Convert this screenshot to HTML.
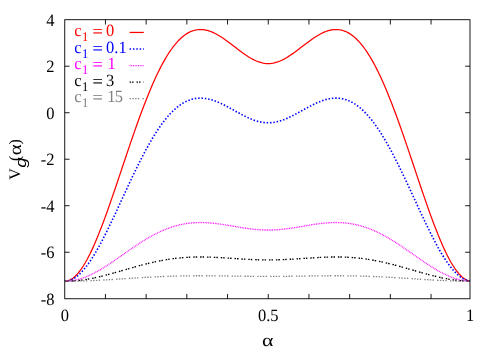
<!DOCTYPE html><html><head><meta charset="utf-8"><title>V_g</title><style>html,body{margin:0;padding:0;background:#fff}svg{display:block;will-change:transform}text{font-family:"Liberation Serif",serif;font-size:16.5px;text-rendering:geometricPrecision}</style></head><body>
<svg width="498" height="349" viewBox="0 0 498 349">
<rect width="498" height="349" fill="#fff"/>
<clipPath id="pc"><rect x="64.75" y="19.7" width="405.25" height="279.05"/></clipPath>
<g fill="none" stroke-linejoin="round" clip-path="url(#pc)">
<path d="M64.75,281.22 L66.45,281.08 L68.14,280.68 L69.84,280.02 L71.53,279.09 L73.23,277.91 L74.92,276.48 L76.62,274.80 L78.32,272.89 L80.01,270.74 L81.71,268.36 L83.40,265.77 L85.10,262.98 L86.80,259.98 L88.49,256.79 L90.19,253.42 L91.88,249.87 L93.58,246.16 L95.28,242.29 L96.97,238.28 L98.67,234.13 L100.36,229.85 L102.06,225.46 L103.75,220.96 L105.45,216.36 L107.15,211.67 L108.84,206.91 L110.54,202.07 L112.23,197.17 L113.93,192.23 L115.62,187.24 L117.32,182.22 L119.02,177.17 L120.71,172.11 L122.41,167.04 L124.10,161.98 L125.80,156.93 L127.50,151.89 L129.19,146.89 L130.89,141.92 L132.58,136.99 L134.28,132.11 L135.97,127.28 L137.67,122.52 L139.37,117.83 L141.06,113.22 L142.76,108.69 L144.45,104.25 L146.15,99.90 L147.85,95.65 L149.54,91.51 L151.24,87.48 L152.93,83.56 L154.63,79.76 L156.32,76.08 L158.02,72.53 L159.72,69.10 L161.41,65.81 L163.11,62.66 L164.80,59.65 L166.50,56.77 L168.20,54.04 L169.89,51.45 L171.59,49.00 L173.28,46.70 L174.98,44.55 L176.68,42.55 L178.37,40.69 L180.07,38.98 L181.76,37.42 L183.46,36.01 L185.15,34.73 L186.85,33.61 L188.55,32.62 L190.24,31.78 L191.94,31.07 L193.63,30.50 L195.33,30.06 L197.03,29.75 L198.72,29.57 L200.42,29.51 L202.11,29.57 L203.81,29.74 L205.50,30.02 L207.20,30.41 L208.90,30.91 L210.59,31.49 L212.29,32.17 L213.98,32.94 L215.68,33.78 L217.38,34.70 L219.07,35.69 L220.77,36.73 L222.46,37.84 L224.16,38.99 L225.85,40.19 L227.55,41.42 L229.25,42.68 L230.94,43.96 L232.64,45.26 L234.33,46.56 L236.03,47.87 L237.72,49.16 L239.42,50.45 L241.12,51.71 L242.81,52.94 L244.51,54.14 L246.20,55.30 L247.90,56.40 L249.60,57.45 L251.29,58.44 L252.99,59.36 L254.68,60.20 L256.38,60.96 L258.07,61.63 L259.77,62.21 L261.47,62.69 L263.16,63.07 L264.86,63.35 L266.55,63.52 L268.25,63.57 L269.95,63.52 L271.64,63.35 L273.34,63.07 L275.03,62.69 L276.73,62.21 L278.43,61.63 L280.12,60.96 L281.82,60.20 L283.51,59.36 L285.21,58.44 L286.90,57.45 L288.60,56.40 L290.30,55.30 L291.99,54.14 L293.69,52.94 L295.38,51.71 L297.08,50.45 L298.77,49.16 L300.47,47.87 L302.17,46.56 L303.86,45.26 L305.56,43.96 L307.25,42.68 L308.95,41.42 L310.65,40.19 L312.34,38.99 L314.04,37.84 L315.73,36.73 L317.43,35.69 L319.12,34.70 L320.82,33.78 L322.52,32.94 L324.21,32.17 L325.91,31.49 L327.60,30.91 L329.30,30.41 L331.00,30.02 L332.69,29.74 L334.39,29.57 L336.08,29.51 L337.78,29.57 L339.48,29.75 L341.17,30.06 L342.87,30.50 L344.56,31.07 L346.26,31.78 L347.95,32.62 L349.65,33.61 L351.35,34.73 L353.04,36.01 L354.74,37.42 L356.43,38.98 L358.13,40.69 L359.82,42.55 L361.52,44.55 L363.22,46.70 L364.91,49.00 L366.61,51.45 L368.30,54.04 L370.00,56.77 L371.70,59.65 L373.39,62.66 L375.09,65.81 L376.78,69.10 L378.48,72.53 L380.18,76.08 L381.87,79.76 L383.57,83.56 L385.26,87.48 L386.96,91.51 L388.65,95.65 L390.35,99.90 L392.05,104.25 L393.74,108.69 L395.44,113.22 L397.13,117.83 L398.83,122.52 L400.52,127.28 L402.22,132.11 L403.92,136.99 L405.61,141.92 L407.31,146.89 L409.00,151.89 L410.70,156.93 L412.40,161.98 L414.09,167.04 L415.79,172.11 L417.48,177.17 L419.18,182.22 L420.88,187.24 L422.57,192.23 L424.27,197.17 L425.96,202.07 L427.66,206.91 L429.35,211.67 L431.05,216.36 L432.75,220.96 L434.44,225.46 L436.14,229.85 L437.83,234.13 L439.53,238.28 L441.23,242.29 L442.92,246.16 L444.62,249.87 L446.31,253.42 L448.01,256.79 L449.70,259.98 L451.40,262.98 L453.10,265.77 L454.79,268.36 L456.49,270.74 L458.18,272.89 L459.88,274.80 L461.57,276.48 L463.27,277.91 L464.97,279.09 L466.66,280.02 L468.36,280.68 L470.05,281.08 L471.75,281.22" stroke="#ff0000" stroke-width="1.25"/>
<path d="M64.75,281.22 L66.45,281.12 L68.14,280.83 L69.84,280.35 L71.53,279.68 L73.23,278.82 L74.92,277.78 L76.62,276.57 L78.32,275.18 L80.01,273.62 L81.71,271.90 L83.40,270.02 L85.10,267.99 L86.80,265.82 L88.49,263.50 L90.19,261.06 L91.88,258.48 L93.58,255.79 L95.28,252.98 L96.97,250.07 L98.67,247.05 L100.36,243.95 L102.06,240.76 L103.75,237.48 L105.45,234.14 L107.15,230.73 L108.84,227.27 L110.54,223.75 L112.23,220.19 L113.93,216.60 L115.62,212.97 L117.32,209.32 L119.02,205.65 L120.71,201.96 L122.41,198.28 L124.10,194.59 L125.80,190.92 L127.50,187.25 L129.19,183.61 L130.89,179.99 L132.58,176.40 L134.28,172.85 L135.97,169.34 L137.67,165.87 L139.37,162.46 L141.06,159.10 L142.76,155.80 L144.45,152.56 L146.15,149.40 L147.85,146.30 L149.54,143.29 L151.24,140.35 L152.93,137.49 L154.63,134.73 L156.32,132.05 L158.02,129.46 L159.72,126.97 L161.41,124.57 L163.11,122.28 L164.80,120.08 L166.50,117.99 L168.20,116.00 L169.89,114.11 L171.59,112.33 L173.28,110.66 L174.98,109.09 L176.68,107.63 L178.37,106.28 L180.07,105.04 L181.76,103.90 L183.46,102.87 L185.15,101.94 L186.85,101.12 L188.55,100.41 L190.24,99.79 L191.94,99.28 L193.63,98.86 L195.33,98.54 L197.03,98.32 L198.72,98.18 L200.42,98.14 L202.11,98.18 L203.81,98.31 L205.50,98.52 L207.20,98.80 L208.90,99.16 L210.59,99.58 L212.29,100.08 L213.98,100.63 L215.68,101.24 L217.38,101.91 L219.07,102.63 L220.77,103.39 L222.46,104.19 L224.16,105.03 L225.85,105.89 L227.55,106.79 L229.25,107.70 L230.94,108.63 L232.64,109.57 L234.33,110.51 L236.03,111.46 L237.72,112.40 L239.42,113.32 L241.12,114.24 L242.81,115.13 L244.51,116.00 L246.20,116.83 L247.90,117.63 L249.60,118.39 L251.29,119.11 L252.99,119.77 L254.68,120.38 L256.38,120.92 L258.07,121.41 L259.77,121.83 L261.47,122.17 L263.16,122.45 L264.86,122.65 L266.55,122.77 L268.25,122.81 L269.95,122.77 L271.64,122.65 L273.34,122.45 L275.03,122.17 L276.73,121.83 L278.43,121.41 L280.12,120.92 L281.82,120.38 L283.51,119.77 L285.21,119.11 L286.90,118.39 L288.60,117.63 L290.30,116.83 L291.99,116.00 L293.69,115.13 L295.38,114.24 L297.08,113.32 L298.77,112.40 L300.47,111.46 L302.17,110.51 L303.86,109.57 L305.56,108.63 L307.25,107.70 L308.95,106.79 L310.65,105.89 L312.34,105.03 L314.04,104.19 L315.73,103.39 L317.43,102.63 L319.12,101.91 L320.82,101.24 L322.52,100.63 L324.21,100.08 L325.91,99.58 L327.60,99.16 L329.30,98.80 L331.00,98.52 L332.69,98.31 L334.39,98.18 L336.08,98.14 L337.78,98.18 L339.48,98.32 L341.17,98.54 L342.87,98.86 L344.56,99.28 L346.26,99.79 L347.95,100.41 L349.65,101.12 L351.35,101.94 L353.04,102.87 L354.74,103.90 L356.43,105.04 L358.13,106.28 L359.82,107.63 L361.52,109.09 L363.22,110.66 L364.91,112.33 L366.61,114.11 L368.30,116.00 L370.00,117.99 L371.70,120.08 L373.39,122.28 L375.09,124.57 L376.78,126.97 L378.48,129.46 L380.18,132.05 L381.87,134.73 L383.57,137.49 L385.26,140.35 L386.96,143.29 L388.65,146.30 L390.35,149.40 L392.05,152.56 L393.74,155.80 L395.44,159.10 L397.13,162.46 L398.83,165.87 L400.52,169.34 L402.22,172.85 L403.92,176.40 L405.61,179.99 L407.31,183.61 L409.00,187.25 L410.70,190.92 L412.40,194.59 L414.09,198.28 L415.79,201.96 L417.48,205.65 L419.18,209.32 L420.88,212.97 L422.57,216.60 L424.27,220.19 L425.96,223.75 L427.66,227.27 L429.35,230.73 L431.05,234.14 L432.75,237.48 L434.44,240.76 L436.14,243.95 L437.83,247.05 L439.53,250.07 L441.23,252.98 L442.92,255.79 L444.62,258.48 L446.31,261.06 L448.01,263.50 L449.70,265.82 L451.40,267.99 L453.10,270.02 L454.79,271.90 L456.49,273.62 L458.18,275.18 L459.88,276.57 L461.57,277.78 L463.27,278.82 L464.97,279.68 L466.66,280.35 L468.36,280.83 L470.05,281.12 L471.75,281.22" stroke="#0000ff" stroke-width="1.6" stroke-dasharray="1.5 1.85"/>
<path d="M64.75,281.22 L66.45,281.19 L68.14,281.10 L69.84,280.95 L71.53,280.75 L73.23,280.48 L74.92,280.17 L76.62,279.79 L78.32,279.36 L80.01,278.88 L81.71,278.35 L83.40,277.77 L85.10,277.14 L86.80,276.46 L88.49,275.74 L90.19,274.98 L91.88,274.17 L93.58,273.33 L95.28,272.45 L96.97,271.53 L98.67,270.58 L100.36,269.60 L102.06,268.59 L103.75,267.55 L105.45,266.49 L107.15,265.41 L108.84,264.30 L110.54,263.18 L112.23,262.04 L113.93,260.89 L115.62,259.73 L117.32,258.56 L119.02,257.38 L120.71,256.20 L122.41,255.01 L124.10,253.82 L125.80,252.64 L127.50,251.45 L129.19,250.28 L130.89,249.11 L132.58,247.95 L134.28,246.79 L135.97,245.66 L137.67,244.53 L139.37,243.42 L141.06,242.33 L142.76,241.26 L144.45,240.21 L146.15,239.18 L147.85,238.17 L149.54,237.19 L151.24,236.24 L152.93,235.31 L154.63,234.41 L156.32,233.54 L158.02,232.69 L159.72,231.88 L161.41,231.10 L163.11,230.36 L164.80,229.64 L166.50,228.96 L168.20,228.32 L169.89,227.70 L171.59,227.12 L173.28,226.58 L174.98,226.07 L176.68,225.60 L178.37,225.16 L180.07,224.76 L181.76,224.39 L183.46,224.06 L185.15,223.76 L186.85,223.50 L188.55,223.27 L190.24,223.07 L191.94,222.90 L193.63,222.77 L195.33,222.67 L197.03,222.60 L198.72,222.55 L200.42,222.54 L202.11,222.55 L203.81,222.59 L205.50,222.66 L207.20,222.75 L208.90,222.86 L210.59,223.00 L212.29,223.15 L213.98,223.33 L215.68,223.52 L217.38,223.73 L219.07,223.95 L220.77,224.19 L222.46,224.44 L224.16,224.70 L225.85,224.96 L227.55,225.24 L229.25,225.52 L230.94,225.81 L232.64,226.09 L234.33,226.38 L236.03,226.67 L237.72,226.95 L239.42,227.24 L241.12,227.51 L242.81,227.78 L244.51,228.04 L246.20,228.29 L247.90,228.53 L249.60,228.75 L251.29,228.96 L252.99,229.16 L254.68,229.34 L256.38,229.50 L258.07,229.64 L259.77,229.76 L261.47,229.86 L263.16,229.94 L264.86,230.00 L266.55,230.03 L268.25,230.04 L269.95,230.03 L271.64,230.00 L273.34,229.94 L275.03,229.86 L276.73,229.76 L278.43,229.64 L280.12,229.50 L281.82,229.34 L283.51,229.16 L285.21,228.96 L286.90,228.75 L288.60,228.53 L290.30,228.29 L291.99,228.04 L293.69,227.78 L295.38,227.51 L297.08,227.24 L298.77,226.95 L300.47,226.67 L302.17,226.38 L303.86,226.09 L305.56,225.81 L307.25,225.52 L308.95,225.24 L310.65,224.96 L312.34,224.70 L314.04,224.44 L315.73,224.19 L317.43,223.95 L319.12,223.73 L320.82,223.52 L322.52,223.33 L324.21,223.15 L325.91,223.00 L327.60,222.86 L329.30,222.75 L331.00,222.66 L332.69,222.59 L334.39,222.55 L336.08,222.54 L337.78,222.55 L339.48,222.60 L341.17,222.67 L342.87,222.77 L344.56,222.90 L346.26,223.07 L347.95,223.27 L349.65,223.50 L351.35,223.76 L353.04,224.06 L354.74,224.39 L356.43,224.76 L358.13,225.16 L359.82,225.60 L361.52,226.07 L363.22,226.58 L364.91,227.12 L366.61,227.70 L368.30,228.32 L370.00,228.96 L371.70,229.64 L373.39,230.36 L375.09,231.10 L376.78,231.88 L378.48,232.69 L380.18,233.54 L381.87,234.41 L383.57,235.31 L385.26,236.24 L386.96,237.19 L388.65,238.17 L390.35,239.18 L392.05,240.21 L393.74,241.26 L395.44,242.33 L397.13,243.42 L398.83,244.53 L400.52,245.66 L402.22,246.79 L403.92,247.95 L405.61,249.11 L407.31,250.28 L409.00,251.45 L410.70,252.64 L412.40,253.82 L414.09,255.01 L415.79,256.20 L417.48,257.38 L419.18,258.56 L420.88,259.73 L422.57,260.89 L424.27,262.04 L425.96,263.18 L427.66,264.30 L429.35,265.41 L431.05,266.49 L432.75,267.55 L434.44,268.59 L436.14,269.60 L437.83,270.58 L439.53,271.53 L441.23,272.45 L442.92,273.33 L444.62,274.17 L446.31,274.98 L448.01,275.74 L449.70,276.46 L451.40,277.14 L453.10,277.77 L454.79,278.35 L456.49,278.88 L458.18,279.36 L459.88,279.79 L461.57,280.17 L463.27,280.48 L464.97,280.75 L466.66,280.95 L468.36,281.10 L470.05,281.19 L471.75,281.22" stroke="#ff00ff" stroke-width="1.35" stroke-dasharray="0.85 0.85"/>
<path d="M64.75,281.22 L66.45,281.20 L68.14,281.17 L69.84,281.11 L71.53,281.03 L73.23,280.92 L74.92,280.80 L76.62,280.65 L78.32,280.48 L80.01,280.28 L81.71,280.07 L83.40,279.84 L85.10,279.58 L86.80,279.31 L88.49,279.02 L90.19,278.71 L91.88,278.38 L93.58,278.04 L95.28,277.68 L96.97,277.31 L98.67,276.92 L100.36,276.52 L102.06,276.11 L103.75,275.68 L105.45,275.25 L107.15,274.81 L108.84,274.35 L110.54,273.89 L112.23,273.42 L113.93,272.95 L115.62,272.47 L117.32,271.98 L119.02,271.50 L120.71,271.01 L122.41,270.51 L124.10,270.02 L125.80,269.53 L127.50,269.04 L129.19,268.55 L130.89,268.06 L132.58,267.58 L134.28,267.10 L135.97,266.62 L137.67,266.16 L139.37,265.69 L141.06,265.24 L142.76,264.79 L144.45,264.35 L146.15,263.92 L147.85,263.50 L149.54,263.09 L151.24,262.69 L152.93,262.30 L154.63,261.92 L156.32,261.56 L158.02,261.21 L159.72,260.87 L161.41,260.54 L163.11,260.23 L164.80,259.93 L166.50,259.65 L168.20,259.38 L169.89,259.12 L171.59,258.88 L173.28,258.66 L174.98,258.44 L176.68,258.25 L178.37,258.06 L180.07,257.90 L181.76,257.74 L183.46,257.61 L185.15,257.48 L186.85,257.37 L188.55,257.28 L190.24,257.20 L191.94,257.13 L193.63,257.07 L195.33,257.03 L197.03,257.00 L198.72,256.98 L200.42,256.98 L202.11,256.98 L203.81,257.00 L205.50,257.03 L207.20,257.06 L208.90,257.11 L210.59,257.16 L212.29,257.23 L213.98,257.30 L215.68,257.37 L217.38,257.46 L219.07,257.55 L220.77,257.64 L222.46,257.74 L224.16,257.85 L225.85,257.96 L227.55,258.07 L229.25,258.18 L230.94,258.29 L232.64,258.40 L234.33,258.52 L236.03,258.63 L237.72,258.74 L239.42,258.85 L241.12,258.96 L242.81,259.06 L244.51,259.17 L246.20,259.26 L247.90,259.35 L249.60,259.44 L251.29,259.52 L252.99,259.60 L254.68,259.67 L256.38,259.73 L258.07,259.78 L259.77,259.83 L261.47,259.87 L263.16,259.90 L264.86,259.92 L266.55,259.93 L268.25,259.93 L269.95,259.93 L271.64,259.92 L273.34,259.90 L275.03,259.87 L276.73,259.83 L278.43,259.78 L280.12,259.73 L281.82,259.67 L283.51,259.60 L285.21,259.52 L286.90,259.44 L288.60,259.35 L290.30,259.26 L291.99,259.17 L293.69,259.06 L295.38,258.96 L297.08,258.85 L298.77,258.74 L300.47,258.63 L302.17,258.52 L303.86,258.40 L305.56,258.29 L307.25,258.18 L308.95,258.07 L310.65,257.96 L312.34,257.85 L314.04,257.74 L315.73,257.64 L317.43,257.55 L319.12,257.46 L320.82,257.37 L322.52,257.30 L324.21,257.23 L325.91,257.16 L327.60,257.11 L329.30,257.06 L331.00,257.03 L332.69,257.00 L334.39,256.98 L336.08,256.98 L337.78,256.98 L339.48,257.00 L341.17,257.03 L342.87,257.07 L344.56,257.13 L346.26,257.20 L347.95,257.28 L349.65,257.37 L351.35,257.48 L353.04,257.61 L354.74,257.74 L356.43,257.90 L358.13,258.06 L359.82,258.25 L361.52,258.44 L363.22,258.66 L364.91,258.88 L366.61,259.12 L368.30,259.38 L370.00,259.65 L371.70,259.93 L373.39,260.23 L375.09,260.54 L376.78,260.87 L378.48,261.21 L380.18,261.56 L381.87,261.92 L383.57,262.30 L385.26,262.69 L386.96,263.09 L388.65,263.50 L390.35,263.92 L392.05,264.35 L393.74,264.79 L395.44,265.24 L397.13,265.69 L398.83,266.16 L400.52,266.62 L402.22,267.10 L403.92,267.58 L405.61,268.06 L407.31,268.55 L409.00,269.04 L410.70,269.53 L412.40,270.02 L414.09,270.51 L415.79,271.01 L417.48,271.50 L419.18,271.98 L420.88,272.47 L422.57,272.95 L424.27,273.42 L425.96,273.89 L427.66,274.35 L429.35,274.81 L431.05,275.25 L432.75,275.68 L434.44,276.11 L436.14,276.52 L437.83,276.92 L439.53,277.31 L441.23,277.68 L442.92,278.04 L444.62,278.38 L446.31,278.71 L448.01,279.02 L449.70,279.31 L451.40,279.58 L453.10,279.84 L454.79,280.07 L456.49,280.28 L458.18,280.48 L459.88,280.65 L461.57,280.80 L463.27,280.92 L464.97,281.03 L466.66,281.11 L468.36,281.17 L470.05,281.20 L471.75,281.22" stroke="#000000" stroke-width="1.35" stroke-dasharray="1.5 1.0 1.5 2.9"/>
<path d="M64.75,281.22 L66.45,281.21 L68.14,281.21 L69.84,281.19 L71.53,281.18 L73.23,281.15 L74.92,281.13 L76.62,281.09 L78.32,281.06 L80.01,281.01 L81.71,280.97 L83.40,280.92 L85.10,280.86 L86.80,280.80 L88.49,280.74 L90.19,280.67 L91.88,280.60 L93.58,280.52 L95.28,280.44 L96.97,280.36 L98.67,280.27 L100.36,280.18 L102.06,280.09 L103.75,280.00 L105.45,279.90 L107.15,279.80 L108.84,279.70 L110.54,279.59 L112.23,279.49 L113.93,279.38 L115.62,279.27 L117.32,279.17 L119.02,279.06 L120.71,278.94 L122.41,278.83 L124.10,278.72 L125.80,278.61 L127.50,278.50 L129.19,278.39 L130.89,278.28 L132.58,278.17 L134.28,278.06 L135.97,277.95 L137.67,277.84 L139.37,277.74 L141.06,277.63 L142.76,277.53 L144.45,277.43 L146.15,277.33 L147.85,277.24 L149.54,277.15 L151.24,277.05 L152.93,276.97 L154.63,276.88 L156.32,276.80 L158.02,276.72 L159.72,276.64 L161.41,276.56 L163.11,276.49 L164.80,276.42 L166.50,276.36 L168.20,276.30 L169.89,276.24 L171.59,276.19 L173.28,276.13 L174.98,276.09 L176.68,276.04 L178.37,276.00 L180.07,275.96 L181.76,275.93 L183.46,275.90 L185.15,275.87 L186.85,275.84 L188.55,275.82 L190.24,275.80 L191.94,275.79 L193.63,275.78 L195.33,275.77 L197.03,275.76 L198.72,275.76 L200.42,275.75 L202.11,275.76 L203.81,275.76 L205.50,275.77 L207.20,275.77 L208.90,275.78 L210.59,275.80 L212.29,275.81 L213.98,275.83 L215.68,275.84 L217.38,275.86 L219.07,275.88 L220.77,275.90 L222.46,275.92 L224.16,275.95 L225.85,275.97 L227.55,275.99 L229.25,276.02 L230.94,276.04 L232.64,276.06 L234.33,276.09 L236.03,276.11 L237.72,276.14 L239.42,276.16 L241.12,276.18 L242.81,276.21 L244.51,276.23 L246.20,276.25 L247.90,276.27 L249.60,276.28 L251.29,276.30 L252.99,276.32 L254.68,276.33 L256.38,276.34 L258.07,276.35 L259.77,276.36 L261.47,276.37 L263.16,276.38 L264.86,276.38 L266.55,276.38 L268.25,276.39 L269.95,276.38 L271.64,276.38 L273.34,276.38 L275.03,276.37 L276.73,276.36 L278.43,276.35 L280.12,276.34 L281.82,276.33 L283.51,276.32 L285.21,276.30 L286.90,276.28 L288.60,276.27 L290.30,276.25 L291.99,276.23 L293.69,276.21 L295.38,276.18 L297.08,276.16 L298.77,276.14 L300.47,276.11 L302.17,276.09 L303.86,276.06 L305.56,276.04 L307.25,276.02 L308.95,275.99 L310.65,275.97 L312.34,275.95 L314.04,275.92 L315.73,275.90 L317.43,275.88 L319.12,275.86 L320.82,275.84 L322.52,275.83 L324.21,275.81 L325.91,275.80 L327.60,275.78 L329.30,275.77 L331.00,275.77 L332.69,275.76 L334.39,275.76 L336.08,275.75 L337.78,275.76 L339.48,275.76 L341.17,275.77 L342.87,275.78 L344.56,275.79 L346.26,275.80 L347.95,275.82 L349.65,275.84 L351.35,275.87 L353.04,275.90 L354.74,275.93 L356.43,275.96 L358.13,276.00 L359.82,276.04 L361.52,276.09 L363.22,276.13 L364.91,276.19 L366.61,276.24 L368.30,276.30 L370.00,276.36 L371.70,276.42 L373.39,276.49 L375.09,276.56 L376.78,276.64 L378.48,276.72 L380.18,276.80 L381.87,276.88 L383.57,276.97 L385.26,277.05 L386.96,277.15 L388.65,277.24 L390.35,277.33 L392.05,277.43 L393.74,277.53 L395.44,277.63 L397.13,277.74 L398.83,277.84 L400.52,277.95 L402.22,278.06 L403.92,278.17 L405.61,278.28 L407.31,278.39 L409.00,278.50 L410.70,278.61 L412.40,278.72 L414.09,278.83 L415.79,278.94 L417.48,279.06 L419.18,279.17 L420.88,279.27 L422.57,279.38 L424.27,279.49 L425.96,279.59 L427.66,279.70 L429.35,279.80 L431.05,279.90 L432.75,280.00 L434.44,280.09 L436.14,280.18 L437.83,280.27 L439.53,280.36 L441.23,280.44 L442.92,280.52 L444.62,280.60 L446.31,280.67 L448.01,280.74 L449.70,280.80 L451.40,280.86 L453.10,280.92 L454.79,280.97 L456.49,281.01 L458.18,281.06 L459.88,281.09 L461.57,281.13 L463.27,281.15 L464.97,281.18 L466.66,281.19 L468.36,281.21 L470.05,281.21 L471.75,281.22" stroke="#808080" stroke-width="1.3" stroke-dasharray="1.4 1.35 1.4 1.35 1.4 1.35 1.4 3.2"/>
</g>
<g fill="none" stroke="#000" stroke-width="0.9">
<rect x="64.75" y="19.7" width="405.25" height="279.05"/>
<path d="M105.45,298.75v-4.80M105.45,19.70v4.80M146.15,298.75v-4.80M146.15,19.70v4.80M186.85,298.75v-4.80M186.85,19.70v4.80M227.55,298.75v-4.80M227.55,19.70v4.80M268.25,298.75v-4.80M268.25,19.70v4.80M308.95,298.75v-4.80M308.95,19.70v4.80M349.65,298.75v-4.80M349.65,19.70v4.80M390.35,298.75v-4.80M390.35,19.70v4.80M431.05,298.75v-4.80M431.05,19.70v4.80M64.75,66.21h4.80M470.00,66.21h-4.80M64.75,112.72h4.80M470.00,112.72h-4.80M64.75,159.22h4.80M470.00,159.22h-4.80M64.75,205.73h4.80M470.00,205.73h-4.80M64.75,252.24h4.80M470.00,252.24h-4.80"/>
</g>
<text transform="translate(54.5,25.90) scale(1,1.05)" text-anchor="end">4</text>
<text transform="translate(54.5,72.41) scale(1,1.05)" text-anchor="end">2</text>
<text transform="translate(54.5,118.92) scale(1,1.05)" text-anchor="end">0</text>
<text transform="translate(54.5,165.42) scale(1,1.05)" text-anchor="end">-2</text>
<text transform="translate(54.5,211.93) scale(1,1.05)" text-anchor="end">-4</text>
<text transform="translate(54.5,258.44) scale(1,1.05)" text-anchor="end">-6</text>
<text transform="translate(54.5,304.95) scale(1,1.05)" text-anchor="end">-8</text>
<text transform="translate(64.90,321.3) scale(1,1.05)" text-anchor="middle">0</text>
<text transform="translate(268.30,321.3) scale(1,1.05)" text-anchor="middle">0.5</text>
<text transform="translate(470.20,321.3) scale(1,1.05)" text-anchor="middle">1</text>
<text transform="translate(267.8,346.2) scale(1.36,1.1)" x="0" y="0" text-anchor="middle" style="font-size:16px">α</text>
<g transform="translate(20.3,179.2) rotate(-90)">
<text x="-0.6" y="0" style="font-size:16px">V</text>
<text transform="translate(11.5,5.9) scale(1.25,1)" style="font-family:'Liberation Sans',sans-serif;font-style:italic;font-size:15px">g</text>
<text x="18.3" y="0" style="font-size:16px">(</text>
<text transform="translate(23.9,0.8) scale(1.3,1.1)" style="font-size:16px">α</text>
<text x="34.6" y="0" style="font-size:16px">)</text>
</g>
<text transform="translate(0,36.45) scale(1,1.04)" fill="#ff0000"><tspan x="74.2">c</tspan><tspan x="82.0" dy="4.6" style="font-size:12.6px">1</tspan><tspan x="92.5" dy="-3.6" textLength="10.3" lengthAdjust="spacingAndGlyphs" stroke="#ff0000" stroke-width="0.15">=</tspan><tspan x="106.1" dy="-1">0</tspan></text>
<path d="M129.6,32.45H143.8" fill="none" stroke="#ff0000" stroke-width="1.25"/>
<text transform="translate(0,52.92) scale(1,1.04)" fill="#0000ff"><tspan x="74.2">c</tspan><tspan x="82.0" dy="4.6" style="font-size:12.6px">1</tspan><tspan x="92.5" dy="-3.6" textLength="10.3" lengthAdjust="spacingAndGlyphs" stroke="#0000ff" stroke-width="0.15">=</tspan><tspan x="106.1" dy="-1">0.1</tspan></text>
<path d="M129.6,49.00H143.8" fill="none" stroke="#0000ff" stroke-width="1.6" stroke-dasharray="1.5 1.85"/>
<text transform="translate(0,69.39) scale(1,1.04)" fill="#ff00ff"><tspan x="74.2">c</tspan><tspan x="82.0" dy="4.6" style="font-size:12.6px">1</tspan><tspan x="92.5" dy="-3.6" textLength="10.3" lengthAdjust="spacingAndGlyphs" stroke="#ff00ff" stroke-width="0.15">=</tspan><tspan x="107.4" dy="-1">1</tspan></text>
<path d="M129.6,65.55H143.8" fill="none" stroke="#ff00ff" stroke-width="1.35" stroke-dasharray="0.85 0.85"/>
<text transform="translate(0,85.86) scale(1,1.04)" fill="#000000"><tspan x="74.2">c</tspan><tspan x="82.0" dy="4.6" style="font-size:12.6px">1</tspan><tspan x="92.5" dy="-3.6" textLength="10.3" lengthAdjust="spacingAndGlyphs" stroke="#000000" stroke-width="0.15">=</tspan><tspan x="106.1" dy="-1">3</tspan></text>
<path d="M129.6,82.10H143.8" fill="none" stroke="#000000" stroke-width="1.35" stroke-dasharray="1.5 1.0 1.5 2.9"/>
<text transform="translate(0,102.33) scale(1,1.04)" fill="#808080"><tspan x="74.2">c</tspan><tspan x="82.0" dy="4.6" style="font-size:12.6px">1</tspan><tspan x="92.5" dy="-3.6" textLength="10.3" lengthAdjust="spacingAndGlyphs" stroke="#808080" stroke-width="0.15">=</tspan><tspan x="107.2" dy="-1" style="letter-spacing:-0.6px">15</tspan></text>
<path d="M129.6,98.65H143.8" fill="none" stroke="#808080" stroke-width="1.3" stroke-dasharray="1.4 1.35 1.4 1.35 1.4 1.35 1.4 3.2"/>
</svg></body></html>
